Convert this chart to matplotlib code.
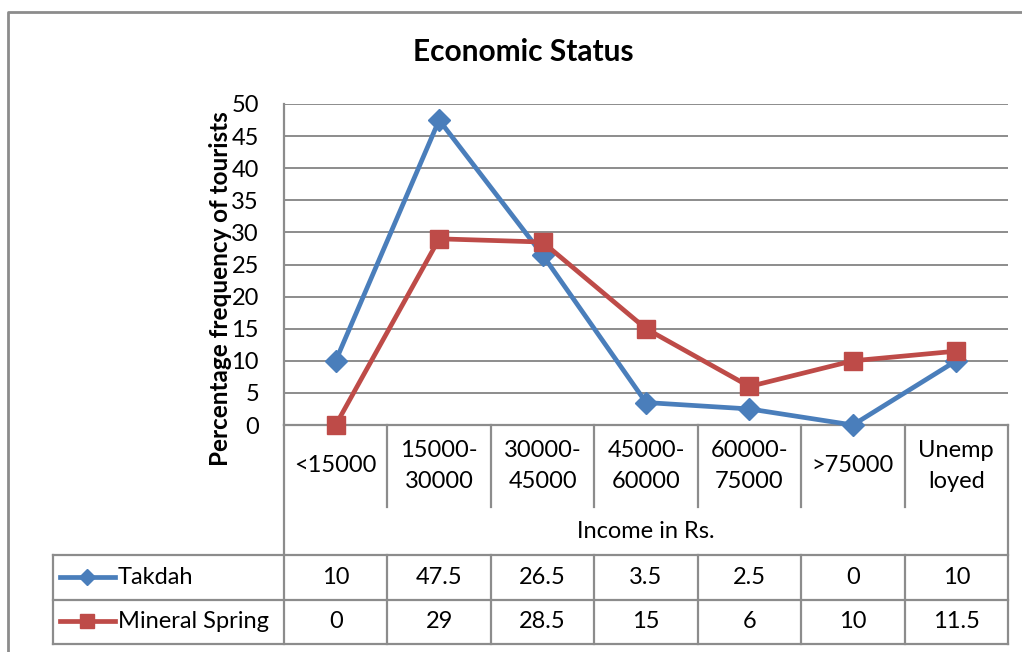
import matplotlib
matplotlib.use("Agg")
import matplotlib.pyplot as plt
from matplotlib.lines import Line2D

categories = ["<15000", "15000-\n30000", "30000-\n45000", "45000-\n60000",
              "60000-\n75000", ">75000", "Unemp\nloyed"]
takdah = [10, 47.5, 26.5, 3.5, 2.5, 0, 10]
mineral = [0, 29, 28.5, 15, 6, 10, 11.5]
takdah_labels = ["10", "47.5", "26.5", "3.5", "2.5", "0", "10"]
mineral_labels = ["0", "29", "28.5", "15", "6", "10", "11.5"]
series_names = ["Takdah", "Mineral Spring"]
yticks = [0, 5, 10, 15, 20, 25, 30, 35, 40, 45, 50]

W, H = 1022, 652
plt.rcParams['font.family'] = ['Lato', 'DejaVu Sans']
fig = plt.figure(figsize=(W / 100, H / 100), dpi=100)

BLUE = "#4A7EBB"
RED = "#BE4B48"
GRID = "#8C8C8C"
FS = 17

def fx(x):
    return x / W

def fy(y):
    return 1 - y / H

def hline(y, x0, x1, lw=1.6):
    fig.add_artist(Line2D([fx(x0), fx(x1)], [fy(y), fy(y)], color=GRID, lw=lw,
                          transform=fig.transFigure))

def vline(x, y0, y1, lw=1.6):
    fig.add_artist(Line2D([fx(x), fx(x)], [fy(y0), fy(y1)], color=GRID, lw=lw,
                          transform=fig.transFigure))

# outer chart frame
fig.add_artist(Line2D([fx(8), fx(8), fx(1030)], [fy(660), fy(12), fy(12)],
                      color=GRID, lw=2.0, transform=fig.transFigure))

L, R, T, B = 284, 1008, 104, 425
ax = fig.add_axes([fx(L), fy(B), fx(R - L), (B - T) / H])
n = len(categories)
x = list(range(n))
ax.set_xlim(-0.5, n - 0.5)
ax.set_ylim(0, 50)
ax.set_yticks(yticks)
ax.set_yticklabels([str(v) for v in yticks], fontsize=FS)
ax.tick_params(axis='y', length=0, pad=18)
ax.set_xticks([])
ax.yaxis.grid(True, color=GRID, lw=1.4)
ax.set_axisbelow(True)
for s in ["top", "right"]:
    ax.spines[s].set_visible(False)
ax.spines["left"].set_color(GRID)
ax.spines["left"].set_linewidth(1.6)
ax.spines["bottom"].set_color(GRID)
ax.spines["bottom"].set_linewidth(1.6)

ax.plot(x, takdah, color=BLUE, lw=3.4, marker="D", ms=11, mec=BLUE, mfc=BLUE,
        clip_on=False, zorder=3)
ax.plot(x, mineral, color=RED, lw=3.4, marker="s", ms=13, mec=RED, mfc=RED,
        clip_on=False, zorder=4)

fig.text(fx(523), fy(52), "Economic Status", fontsize=21.5, fontweight="bold",
         ha="center", va="center")
fig.text(fx(220), fy(289), "Percentage frequency of tourists", fontsize=17.5,
         fontweight="bold", rotation=90, ha="center", va="center")

# data table
cw = (R - L) / n
xs = [L + k * cw for k in range(n + 1)]
vline(xs[0], B, 644)
vline(xs[-1], B, 644)
for k in range(1, n):
    vline(xs[k], B, 507)
    vline(xs[k], 555, 644)
for yy in (555, 600, 644):
    hline(yy, 53, R)
vline(53, 555, 644)

for k, lab in enumerate(categories):
    cx = L + (k + 0.5) * cw
    fig.text(fx(cx), fy(466), lab, fontsize=FS, ha="center", va="center",
             linespacing=1.6)
    fig.text(fx(cx), fy(578), takdah_labels[k], fontsize=FS, ha="center", va="center")
    fig.text(fx(cx), fy(621), mineral_labels[k], fontsize=FS, ha="center", va="center")
fig.text(fx((L + R) / 2), fy(531), "Income in Rs.", fontsize=FS, ha="center", va="center")

# legend keys
for yy, col, mk, ms, name in ((577, BLUE, "D", 8, series_names[0]),
                              (621, RED, "s", 9.5, series_names[1])):
    fig.add_artist(Line2D([fx(60), fx(115)], [fy(yy), fy(yy)], color=col, lw=3.4,
                          transform=fig.transFigure))
    fig.add_artist(Line2D([fx(87)], [fy(yy)], color=col, marker=mk, ms=ms,
                          mec=col, mfc=col, transform=fig.transFigure))
    fig.text(fx(118), fy(yy), name, fontsize=FS, ha="left", va="center")

fig.savefig("out.png", dpi=100)
